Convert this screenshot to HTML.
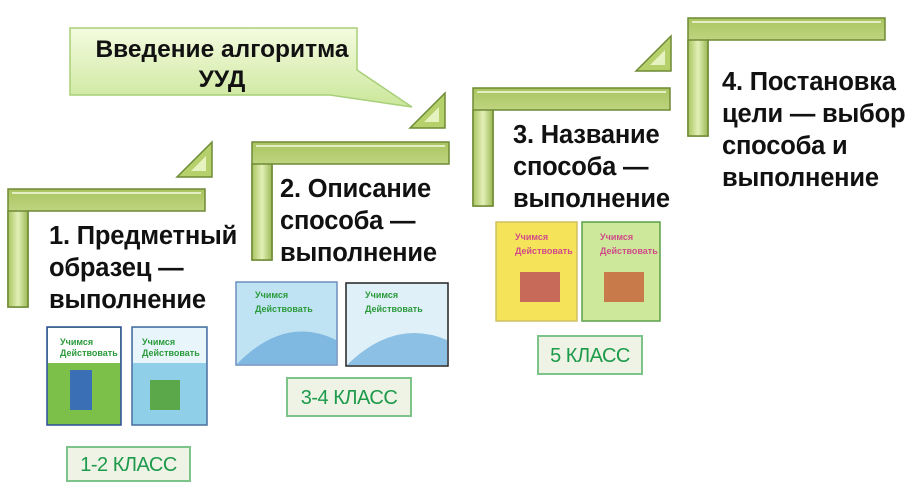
<!DOCTYPE html>
<html><head><meta charset="utf-8"><style>
body{margin:0;width:917px;height:502px;background:#fff;overflow:hidden}
svg{display:block}
.t{font-family:"Liberation Sans",sans-serif;font-weight:bold;font-size:25.5px;fill:#111;letter-spacing:-0.2px}
.k{font-family:"Liberation Sans",sans-serif;font-size:20px;fill:#1d9a4a;letter-spacing:-0.5px}
</style></head><body>
<svg width="917" height="502" viewBox="0 0 917 502" xmlns="http://www.w3.org/2000/svg">
<defs>
<linearGradient id="g" x1="0" y1="0" x2="0" y2="1">
<stop offset="0" stop-color="#a9c45f"/><stop offset="0.5" stop-color="#e3f0b8"/><stop offset="1" stop-color="#9bb955"/>
</linearGradient>
<linearGradient id="gv" x1="0" y1="0" x2="1" y2="0">
<stop offset="0" stop-color="#a9c45f"/><stop offset="0.5" stop-color="#e3f0b8"/><stop offset="1" stop-color="#9bb955"/>
</linearGradient>
<linearGradient id="bb" x1="0" y1="0" x2="0" y2="1">
<stop offset="0" stop-color="#f4fbe0"/><stop offset="1" stop-color="#cbe79a"/>
</linearGradient>
<g id="L">
<path d="M0,0 H197 V22 H20 V118 H0 Z" fill="url(#g)" stroke="#6f8a35" stroke-width="1.5"/>
<rect x="0" y="22" width="20" height="96" fill="url(#gv)" stroke="#6f8a35" stroke-width="1.5"/>
<path d="M4,4 H193" fill="none" stroke="#f6fbe4" stroke-width="1.5"/>
</g>
<g id="T">
<path d="M0,35 L35,0 V35 Z" fill="#b6d06c" stroke="#6f8a35" stroke-width="1.5"/>
<path d="M14,29 L29,14 V29 Z" fill="#e6f2bf"/>
</g>
</defs>

<!-- bubble -->
<path d="M70,28 H357 V70 L412,107 L330,95 H70 Z" fill="url(#bb)" stroke="#a8cf79" stroke-width="1.5"/>
<text class="t" x="222" y="57" text-anchor="middle" style="font-size:24.5px;letter-spacing:0">Введение алгоритма</text>
<text class="t" x="222" y="87" text-anchor="middle" style="font-size:24.5px;letter-spacing:0">УУД</text>

<!-- steps -->
<use href="#L" x="8" y="189"/>
<use href="#T" x="177" y="142"/>
<use href="#L" x="252" y="142"/>
<use href="#T" x="410" y="93"/>
<use href="#L" x="473" y="88"/>
<use href="#T" x="636" y="36"/>
<use href="#L" x="688" y="18"/>

<text class="t" x="49" y="244">1. Предметный</text>
<text class="t" x="49" y="276">образец —</text>
<text class="t" x="49" y="308">выполнение</text>

<text class="t" x="280" y="197">2. Описание</text>
<text class="t" x="280" y="229">способа —</text>
<text class="t" x="280" y="261">выполнение</text>

<text class="t" x="513" y="143">3. Название</text>
<text class="t" x="513" y="175">способа —</text>
<text class="t" x="513" y="207">выполнение</text>

<text class="t" x="722" y="90">4. Постановка</text>
<text class="t" x="722" y="122">цели — выбор</text>
<text class="t" x="722" y="154">способа и</text>
<text class="t" x="722" y="186">выполнение</text>

<!-- books step1 -->
<rect x="47" y="327" width="74" height="98" fill="#7cc04a" stroke="#2c4e9a" stroke-width="1.5"/>
<rect x="48" y="328" width="72" height="35" fill="#fff"/>
<rect x="70" y="370" width="22" height="40" fill="#3b6fb5"/>
<rect x="132" y="327" width="75" height="98" fill="#8fd0e8" stroke="#4a6fa0" stroke-width="1.5"/>
<rect x="133" y="328" width="73" height="35" fill="#e8f6fb"/>
<rect x="150" y="380" width="30" height="30" fill="#5ba84a"/>
<text x="60" y="345" style="font:bold 9px 'Liberation Sans';fill:#2a9a3a">Учимся</text>
<text x="60" y="356" style="font:bold 9px 'Liberation Sans';fill:#2a9a3a">Действовать</text>
<text x="142" y="345" style="font:bold 9px 'Liberation Sans';fill:#2a9a3a">Учимся</text>
<text x="142" y="356" style="font:bold 9px 'Liberation Sans';fill:#2a9a3a">Действовать</text>

<!-- books step2 -->
<rect x="236" y="282" width="101" height="83" fill="#bfe3f2" stroke="#6d8fc0" stroke-width="1.5"/>
<path d="M237,364 Q285,315 336,340 V364 Z" fill="#7fb8e0"/>
<rect x="346" y="283" width="102" height="83" fill="#dff0f8" stroke="#222" stroke-width="1.5"/>
<path d="M347,365 Q395,318 447,340 V365 Z" fill="#8cc0e4"/>
<text x="255" y="298" style="font:bold 9px 'Liberation Sans';fill:#2a9a3a">Учимся</text>
<text x="255" y="312" style="font:bold 9px 'Liberation Sans';fill:#2a9a3a">Действовать</text>
<text x="365" y="298" style="font:bold 9px 'Liberation Sans';fill:#2a9a3a">Учимся</text>
<text x="365" y="312" style="font:bold 9px 'Liberation Sans';fill:#2a9a3a">Действовать</text>

<!-- books step3 -->
<rect x="496" y="222" width="81" height="99" fill="#f5e45a" stroke="#cfc060" stroke-width="1.5"/>
<rect x="520" y="272" width="40" height="30" fill="#c86a5a"/>
<rect x="582" y="222" width="78" height="99" fill="#cde89a" stroke="#5aa04a" stroke-width="1.5"/>
<rect x="604" y="272" width="40" height="30" fill="#c87a4a"/>
<text x="515" y="240" style="font:bold 9px 'Liberation Sans';fill:#d04a8a">Учимся</text>
<text x="515" y="254" style="font:bold 9px 'Liberation Sans';fill:#d04a8a">Действовать</text>
<text x="600" y="240" style="font:bold 9px 'Liberation Sans';fill:#d04a8a">Учимся</text>
<text x="600" y="254" style="font:bold 9px 'Liberation Sans';fill:#d04a8a">Действовать</text>

<!-- class labels -->
<rect x="67" y="447" width="123" height="34" fill="#eef3e6" stroke="#7cc48a" stroke-width="2"/>
<text class="k" x="128.5" y="471" text-anchor="middle">1-2 КЛАСС</text>
<rect x="287" y="378" width="124" height="38" fill="#eef3e6" stroke="#7cc48a" stroke-width="2"/>
<text class="k" x="349" y="404" text-anchor="middle">3-4 КЛАСС</text>
<rect x="538" y="336" width="104" height="38" fill="#eef3e6" stroke="#7cc48a" stroke-width="2"/>
<text class="k" x="590" y="362" text-anchor="middle">5 КЛАСС</text>
</svg>
</body></html>
